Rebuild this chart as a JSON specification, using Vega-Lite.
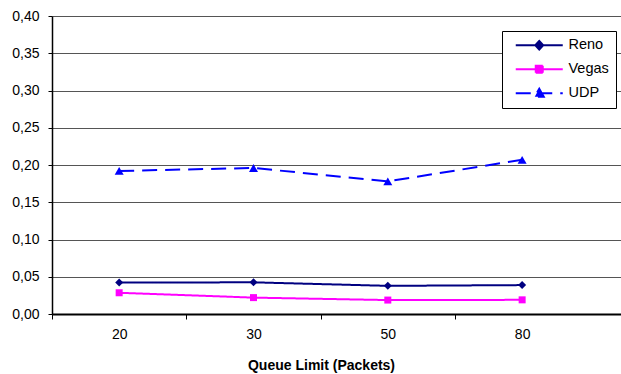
{
  "$schema": "https://vega.github.io/schema/vega-lite/v6.json",
  "width": 569,
  "height": 298,
  "autosize": {"type": "none"},
  "padding": {"left": 52, "top": 16, "right": 0, "bottom": 60},
  "background": "white",
  "config": {
    "view": {"stroke": null},
    "locale": {"number": {"decimal": ",", "thousands": ".", "grouping": [3], "currency": ["", " €"]}},
    "font": "Liberation Sans"
  },
  "data": {
    "values": [
      {"queue": "20", "protocol": "Reno", "value": 0.0423},
      {"queue": "30", "protocol": "Reno", "value": 0.0425},
      {"queue": "50", "protocol": "Reno", "value": 0.0378},
      {"queue": "80", "protocol": "Reno", "value": 0.0388},
      {"queue": "20", "protocol": "Vegas", "value": 0.0285},
      {"queue": "30", "protocol": "Vegas", "value": 0.022},
      {"queue": "50", "protocol": "Vegas", "value": 0.0187},
      {"queue": "80", "protocol": "Vegas", "value": 0.019},
      {"queue": "20", "protocol": "UDP", "value": 0.192},
      {"queue": "30", "protocol": "UDP", "value": 0.196},
      {"queue": "50", "protocol": "UDP", "value": 0.178},
      {"queue": "80", "protocol": "UDP", "value": 0.207}
    ]
  },
  "encoding": {
    "x": {
      "field": "queue", "type": "ordinal", "sort": null, "bandPosition": 0.5,
      "scale": {"type": "band", "paddingInner": 0, "paddingOuter": 0.118, "align": 0},
      "axis": {
        "title": "Queue Limit (Packets)", "labelAngle": 0, "tickBand": "center",
        "tickOffset": -67.16, "labelOffset": 67.16,
        "domainColor": "black", "domainWidth": 2, "tickSize": 5, "tickColor": "black",
        "labelFontSize": 14, "labelColor": "black", "labelPadding": 8,
        "titleFontSize": 14, "titleFontWeight": "bold", "titleColor": "black",
        "titleX": 269, "titleY": 55, "titleBaseline": "alphabetic", "titleAlign": "center",
        "grid": false
      }
    },
    "y": {
      "field": "value", "type": "quantitative",
      "scale": {"domain": [0, 0.4], "nice": false},
      "axis": {
        "title": null, "values": [0, 0.05, 0.1, 0.15, 0.2, 0.25, 0.3, 0.35, 0.4], "format": ".2f",
        "domainColor": "black", "domainWidth": 1.5, "tickColor": "black", "tickSize": 4,
        "labelFontSize": 14, "labelColor": "black", "labelPadding": 9,
        "grid": true, "gridColor": "#555555", "gridWidth": 1, "gridOpacity": 1
      }
    },
    "color": {
      "field": "protocol", "type": "nominal",
      "scale": {"domain": ["Reno", "Vegas", "UDP"], "range": ["#000080", "#FF00FF", "#0000FF"]},
      "legend": {
        "title": null, "orient": "none", "legendX": 450, "legendY": 15, "direction": "vertical",
        "strokeColor": "black", "fillColor": "white", "padding": 7,
        "symbolSize": 100, "symbolStrokeWidth": 2, "symbolOffset": 23,
        "labelOffset": 22, "labelFontSize": 14.5, "labelColor": "black", "labelFont": "Liberation Sans",
        "rowPadding": 7,
        "encode": {
          "symbols": {
            "update": {
              "shape": {"signal": "datum.value === 'Reno' ? 'M-4.7,0L4.7,0M0,-0.85L0.8,0L0,0.85L-0.8,0Z' : datum.value === 'Vegas' ? 'M-4.7,0L4.7,0M-0.7,-0.7L0.7,-0.7L0.7,0.7L-0.7,0.7Z' : 'M-4.7,0L-1.5,0M-0.4,0L4.7,0M0,-0.9L0.9,0.7L-0.9,0.7Z'"},
              "fill": {"scale": "color", "field": "value"},
              "stroke": {"scale": "color", "field": "value"},
              "strokeDash": {"value": [1, 0]},
              "opacity": {"value": 1},
              "fillOpacity": {"value": 1}
            }
          }
        }
      }
    }
  },
  "layer": [
    {
      "mark": {"type": "line", "strokeWidth": 2},
      "encoding": {
        "strokeDash": {
          "field": "protocol", "type": "nominal",
          "scale": {"domain": ["Reno", "Vegas", "UDP"], "range": [[1, 0], [1, 0], [15, 8]]},
          "legend": null
        },
        "strokeWidth": {
          "field": "protocol", "type": "nominal",
          "scale": {"domain": ["Reno", "Vegas", "UDP"], "range": [2, 2, 3]},
          "legend": null
        }
      }
    },
    {
      "transform": [{"filter": "datum.protocol === 'Reno'"}],
      "mark": {"type": "point", "filled": true, "opacity": 1, "shape": "diamond", "size": 64}
    },
    {
      "transform": [{"filter": "datum.protocol === 'Vegas'"}],
      "mark": {"type": "point", "filled": true, "opacity": 1, "shape": "square", "size": 49}
    },
    {
      "transform": [{"filter": "datum.protocol === 'UDP'"}],
      "mark": {"type": "point", "filled": true, "opacity": 1, "shape": "triangle-up", "size": 81}
    }
  ]
}
